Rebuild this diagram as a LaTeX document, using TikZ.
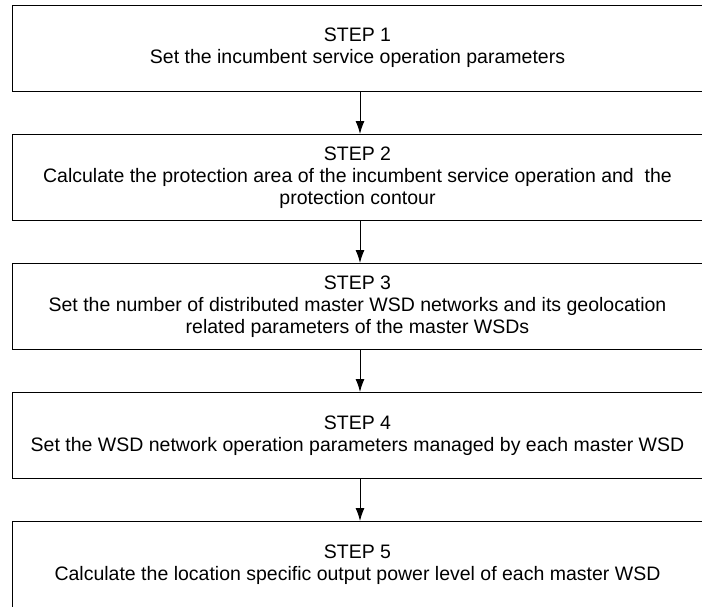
\documentclass[tikz,border=0pt]{standalone}
\usepackage{fontspec}
\setmainfont{Liberation Sans}
\usetikzlibrary{shapes,arrows,arrows.meta,positioning}
\tikzstyle{stepbox} = [rectangle, draw, line width = 1pt, minimum width = 691pt, minimum height = 86pt, align = center, font = \fontsize{19.5}{22}\selectfont]
\tikzstyle{line2} = [draw, line width = 1pt, -{Latex[length=13pt, width=9pt]}]

\begin{document}
\begin{tikzpicture}[x = 1pt, y = 1pt]
			\useasboundingbox (0, 0) rectangle (702, -606);
			% Place nodes
			\node [stepbox] (step1) at (357.5, -48) {STEP 1\\Set the incumbent service operation parameters};
			\node [stepbox] (step2) at (357.5, -177.5) {STEP 2\\Calculate the protection area of the incumbent service operation and ~the\\protection contour};
			\node [stepbox] (step3) at (357.5, -306.5) {STEP 3\\Set the number of distributed master WSD networks and its geolocation\\related parameters of the master WSDs};
			\node [stepbox] (step4) at (357.5, -435.5) {STEP 4\\Set the WSD network operation parameters managed by each master WSD};
			\node [stepbox] (step5) at (357.5, -564.5) {STEP 5\\Calculate the location specific output power level of each master WSD};
			% Draw edges
			\path [line2] ([xshift=2.5pt]step1.south) -- ([xshift=2.5pt]step2.north);
			\path [line2] ([xshift=2.5pt]step2.south) -- ([xshift=2.5pt]step3.north);
			\path [line2] ([xshift=2.5pt]step3.south) -- ([xshift=2.5pt]step4.north);
			\path [line2] ([xshift=2.5pt]step4.south) -- ([xshift=2.5pt]step5.north);
		\end{tikzpicture}
\end{document}
